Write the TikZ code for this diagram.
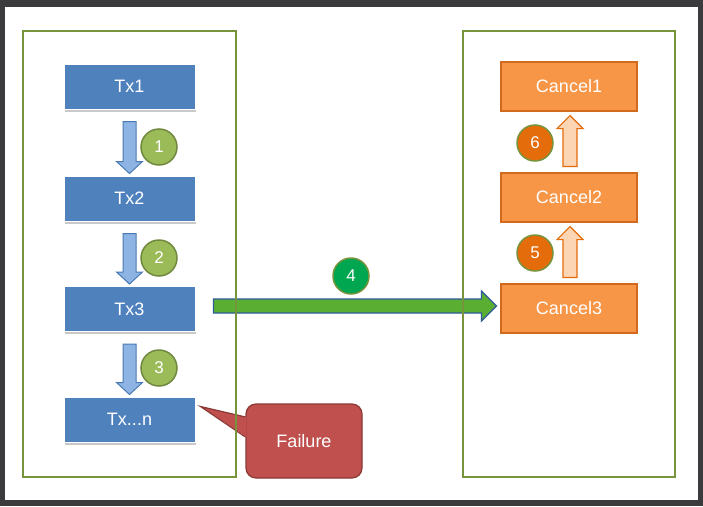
\documentclass[tikz,border=0pt]{standalone}
\usepackage{fontspec}
\setmainfont{Liberation Sans}
\usetikzlibrary{calc,shadows}
\definecolor{framedark}{HTML}{3B3B3D}
\definecolor{groupgreen}{HTML}{77933C}
\definecolor{txblue}{HTML}{4F81BD}
\definecolor{arrblue}{HTML}{8DB4E2}
\definecolor{arrblueb}{HTML}{4A7AB5}
\definecolor{olivefill}{HTML}{9BBB59}
\definecolor{olivebord}{HTML}{71893F}
\definecolor{brightgreen}{HTML}{00A650}
\definecolor{greenarrow}{HTML}{5AAE32}
\definecolor{greenarrowb}{HTML}{2E5C9A}
\definecolor{cancelor}{HTML}{F79646}
\definecolor{cancelorb}{HTML}{D1691F}
\definecolor{peach}{HTML}{FCD5B5}
\definecolor{darkor}{HTML}{E46C0A}
\definecolor{failred}{HTML}{C0504D}
\definecolor{failredb}{HTML}{8C3836}
\newcommand{\blkdown}[3]{%
  \draw[#1] let \p1=($(#2.south)+(0,12)$), \p2=($(#3.north)+(0,-2)$) in
  (\x1-6.5pt,\y1) -- (\x1+6.5pt,\y1) -- (\x1+6.5pt,\y2+12pt) -- (\x1+13pt,\y2+12pt)
  -- (\x2,\y2) -- (\x1-13pt,\y2+12pt) -- (\x1-6.5pt,\y2+12pt) -- cycle;}
\newcommand{\blkup}[3]{%
  \draw[#1] let \p1=($(#2.north)+(1,-6)$), \p2=($(#3.south)+(1,4)$) in
  (\x1-7pt,\y1) -- (\x1+7pt,\y1) -- (\x1+7pt,\y2-13pt) -- (\x1+13pt,\y2-13pt)
  -- (\x2,\y2) -- (\x1-13pt,\y2-13pt) -- (\x1-7pt,\y2-13pt) -- cycle;}
\begin{document}
\begin{tikzpicture}[x=1pt,y=-1pt,
  every node/.style={font=\fontsize{18}{20}\selectfont},
  group/.style={draw=groupgreen,line width=2pt},
  txbox/.style={rectangle,fill=txblue,draw=white,line width=1pt,text=white,
    minimum width=131pt,minimum height=45pt,inner sep=0pt,
    drop shadow={shadow xshift=1pt,shadow yshift=-2.5pt,fill=black!35,opacity=0.6}},
  cbox/.style={rectangle,fill=cancelor,draw=cancelorb,line width=1.2pt,text=white,
    minimum width=136pt,minimum height=49pt,inner sep=0pt},
  numc/.style={circle,fill=olivefill,draw=olivebord,line width=1.5pt,text=white,
    minimum size=36pt,inner sep=0pt,font=\fontsize{17}{19}\selectfont},
  numg/.style={numc,fill=brightgreen,draw=groupgreen},
  numo/.style={numc,fill=darkor,draw=groupgreen},
  bluearrow/.style={fill=arrblue,draw=arrblueb,line width=1pt,line join=miter},
  peacharrow/.style={fill=peach,draw=darkor,line width=1.2pt,line join=miter},
  greenarr/.style={fill=greenarrow,draw=greenarrowb,line width=1.2pt,line join=miter},
  failbox/.style={rectangle,rounded corners=10pt,fill=failred,draw=failredb,line width=1.2pt,
    text=white,minimum width=116pt,minimum height=74pt,inner sep=0pt}
]
\fill[framedark] (0,0) rectangle (703,506);
\fill[white] (5,7) rectangle (698,500);
\useasboundingbox (0,0) rectangle (703,506);

% transactions
\node[txbox] (tx1) at (129.5,86.5) {Tx1};
\node[txbox] (tx2) at (129.5,198.5) {Tx2};
\node[txbox] (tx3) at (129.5,309) {Tx3};
\node[txbox] (txn) at (129.5,419.5) {Tx...n};

% cancels
\node[cbox] (c1) at (569,86.5) {Cancel1};
\node[cbox] (c2) at (569,197.5) {Cancel2};
\node[cbox] (c3) at (569,308.5) {Cancel3};

% arrows
\blkdown{bluearrow}{tx1}{tx2}
\blkdown{bluearrow}{tx2}{tx3}
\blkdown{bluearrow}{tx3}{txn}
\blkup{peacharrow}{c3}{c2}
\blkup{peacharrow}{c2}{c1}
\draw[greenarr] let \p1=($(tx3.east)+(18,-3)$), \p2=($(c3.west)+(-4,-2.5)$) in
  (\x1,\y1+7pt) -- (\x2-15pt,\y1+7pt) -- (\x2-15pt,\y1+15pt) -- (\x2,\y2)
  -- (\x2-15pt,\y1-15pt) -- (\x2-15pt,\y1-7pt) -- (\x1,\y1-7pt) -- cycle;

% numbers
\node[numc] (n1) at (159,147) {1};
\node[numc] (n2) at (159,258) {2};
\node[numc] (n3) at (159,368) {3};
\node[numg] (n4) at (351,276) {4};
\node[numo] (n6) at (535,143) {6};
\node[numo] (n5) at (535,253) {5};

% failure callout
\node[failbox] (fail) at (304,441) {Failure};
\coordinate (tip) at ($(txn.north east)+(5,10)$);
\fill[failred] (tip) -- ($(fail.west)+(1.2,-24)$) -- ($(fail.west)+(1.2,-4)$) -- cycle;
\draw[failredb,line width=1.2pt,line join=miter] ($(fail.west)+(0,-24)$) -- (tip) -- ($(fail.west)+(0,-4)$);

% groups
\draw[group] (23,31) rectangle (236,477);
\draw[group] (463,31) rectangle (675,477);
\end{tikzpicture}
\end{document}
